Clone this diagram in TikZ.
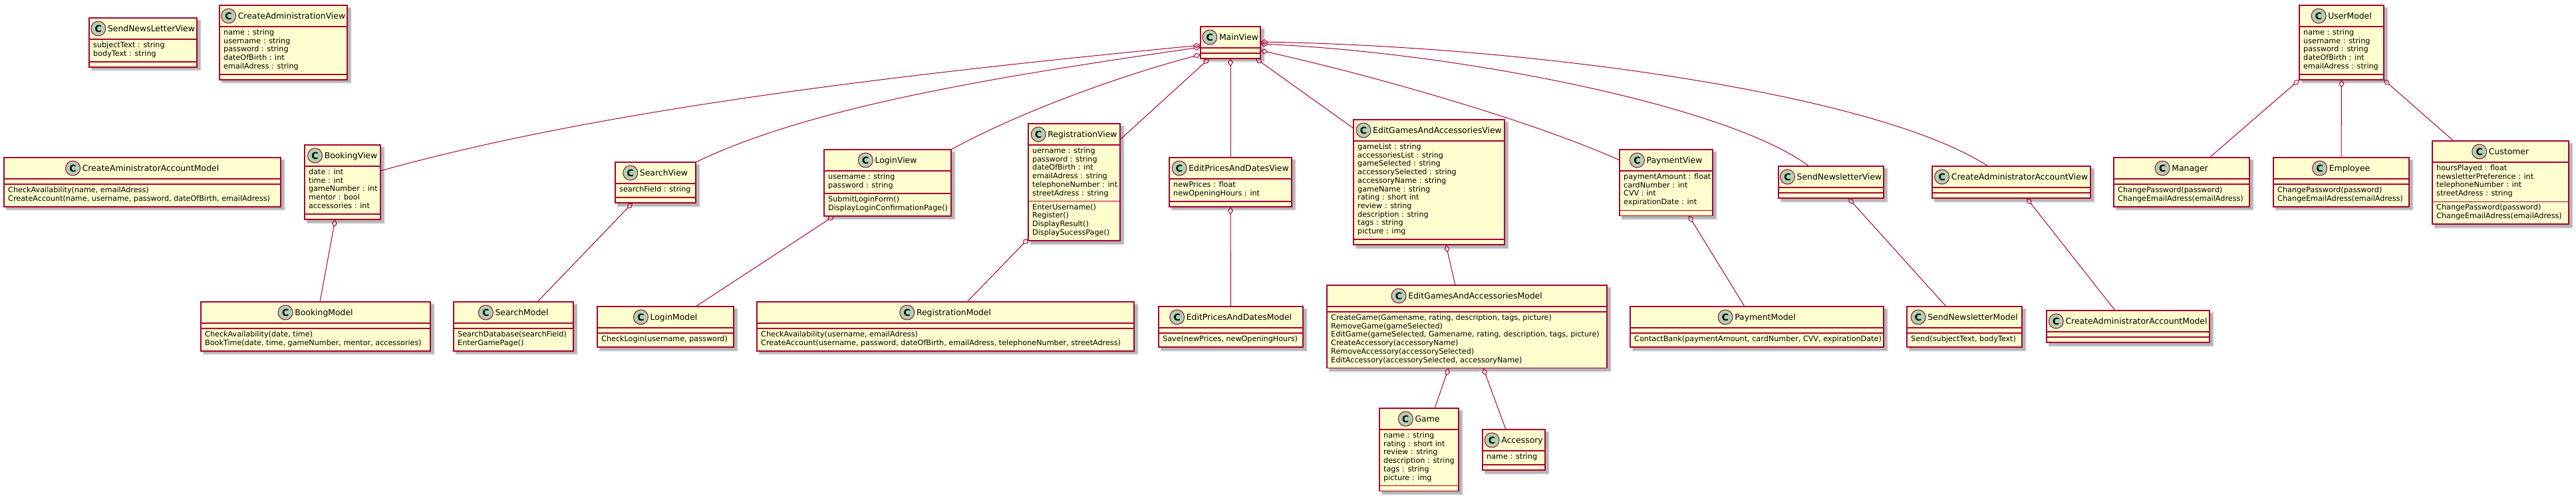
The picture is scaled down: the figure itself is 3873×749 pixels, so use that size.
\documentclass[tikz,border=0pt]{standalone}
\usepackage{fontspec}
\setmainfont{DejaVu Sans}
\usetikzlibrary{arrows.meta,calc}
\definecolor{cred}{HTML}{A80036}
\definecolor{cfill}{HTML}{FEFECE}
\definecolor{cgreen}{HTML}{ADD1B2}
\tikzset{
  cbox/.style={draw=cred, fill=cfill, line width=1.5pt, rectangle, inner sep=0pt, outer sep=0pt},
  csep/.style={draw=cred, line width=1.5pt},
  ctitle/.style={inner sep=0pt, font=\fontsize{12.4}{14}\selectfont, anchor=base},
  ccirc/.style={circle, draw=cred, fill=cgreen, line width=1pt, minimum size=22pt, inner sep=0pt, font=\fontsize{14}{14}\selectfont\bfseries},
  ctext/.style={inner sep=0pt, anchor=north west, align=left, font=\fontsize{11.2}{12.7}\selectfont},
  agg/.style={draw=cred, line width=1pt, arrows={Diamond[open,length=12pt,width=8pt,line width=1pt]-}},
}
% id, x1, top, x2, nAttr, nMeth, title, attrs, methods
\newcommand{\umlclass}[9]{%
  \pgfmathsetmacro\ua{#3+32}%
  \pgfmathsetmacro\ub{\ua+ifthenelse(#5>0,#5*12.7+8.5,8)}%
  \pgfmathsetmacro\uc{\ub+ifthenelse(#6>0,#6*12.7+8.5,8)}%
  \pgfmathsetmacro\uw{#4-#2}%
  \pgfmathsetmacro\uh{\uc-#3}%
  \pgfmathsetmacro\ucy{-(#3+16)}%
  \fill[black,opacity=0.08] (#2+2,#3+2) rectangle (#4+6.5,\uc+6.5);
  \fill[black,opacity=0.10] (#2+3,#3+3) rectangle (#4+5.5,\uc+5.5);
  \fill[black,opacity=0.14] (#2+4,#3+4) rectangle (#4+4.5,\uc+4.5);
  \node[cbox, minimum width=\uw pt, minimum height=\uh pt, anchor=north west] (#1) at (#2,#3) {};
  \draw[csep] (#2,\ua) -- (#4,\ua);
  \draw[csep] (#2,\ub) -- (#4,\ub);
  \node[ctitle] (#1-t) at ({(#2+#4)/2+12.5},{#3+20.5}) {#7};
  \path let \p1=(#1-t.west) in node[ccirc] (#1-c) at (\x1-14pt,\ucy pt) {C};
  \ifnum#5>0 \node[ctext] (#1-a) at (#2+6,\ua+2.3) {\rule{0pt}{10pt}#8};\fi
  \ifnum#6>0 \node[ctext] (#1-m) at (#2+6,\ub+2.3) {\rule{0pt}{10pt}#9};\fi
}
\begin{document}
\begin{tikzpicture}[x=1pt,y=-1pt]
\fill[white] (0,0) rectangle (3873,749);
\useasboundingbox (0,0) rectangle (3873,749);

\umlclass{SendNewsLetterView}{134}{27}{296}{2}{0}{SendNewsLetterView}{subjectText : string\\bodyText : string}{}
\umlclass{CreateAdministrationView}{330}{8}{522}{5}{0}{CreateAdministrationView}{name : string\\username : string\\password : string\\dateOfBirth : int\\emailAdress : string}{}
\umlclass{CreateAministratorAccountModel}{6}{237}{422}{0}{2}{CreateAministratorAccountModel}{}{CheckAvailability(name, emailAdress)\\CreateAccount(name, username, password, dateOfBirth, emailAdress)}
\umlclass{BookingView}{458}{218}{572}{5}{0}{BookingView}{date : int\\time : int\\gameNumber : int\\mentor : bool\\accessories : int}{}
\umlclass{BookingModel}{302}{454}{647}{0}{2}{BookingModel}{}{CheckAvailability(date, time)\\BookTime(date, time, gameNumber, mentor, accessories)}
\umlclass{SearchView}{925}{244}{1046}{1}{0}{SearchView}{searchField : string}{}
\umlclass{SearchModel}{682}{454}{862}{0}{2}{SearchModel}{}{SearchDatabase(searchField)\\EnterGamePage()}
\umlclass{LoginView}{1239}{225}{1430}{2}{2}{LoginView}{username : string\\password : string}{SubmitLoginForm()\\DisplayLoginConfirmationPage()}
\umlclass{LoginModel}{898}{461}{1103}{0}{1}{LoginModel}{}{CheckLogin(username, password)}
\umlclass{RegistrationView}{1546}{186}{1684}{6}{4}{RegistrationView}{uername : string\\password : string\\dateOfBirth : int\\emailAdress : string\\telephoneNumber : int\\streetAdress : string}{EnterUsername()\\Register()\\DisplayResult()\\DisplaySucessPage()}
\umlclass{RegistrationModel}{1138}{454}{1705}{0}{2}{RegistrationModel}{}{CheckAvailability(username, emailAdress)\\CreateAccount(username, password, dateOfBirth, emailAdress, telephoneNumber, streetAdress)}
\umlclass{MainView}{1805}{40}{1895}{0}{0}{MainView}{}{}
\umlclass{EditPricesAndDatesView}{1758}{237}{1942}{2}{0}{EditPricesAndDatesView}{newPrices : float\\newOpeningHours : int}{}
\umlclass{EditPricesAndDatesModel}{1742}{461}{1959}{0}{1}{EditPricesAndDatesModel}{}{Save(newPrices, newOpeningHours)}
\umlclass{EditGamesAndAccessoriesView}{2035}{180}{2262}{11}{0}{EditGamesAndAccessoriesView}{gameList : string\\accessoriesList : string\\gameSelected : string\\accessorySelected : string\\accessoryName : string\\gameName : string\\rating : short int\\review : string\\description : string\\tags : string\\picture : img}{}
\umlclass{EditGamesAndAccessoriesModel}{1995}{429}{2416}{0}{6}{EditGamesAndAccessoriesModel}{}{CreateGame(Gamename, rating, description, tags, picture)\\RemoveGame(gameSelected)\\EditGame(gameSelected, Gamename, rating, description, tags, picture)\\CreateAccessory(accessoryName)\\RemoveAccessory(accessorySelected)\\EditAccessory(accessorySelected, accessoryName)}
\umlclass{Game}{2074}{614}{2193}{6}{0}{Game}{name : string\\rating : short int\\review : string\\description : string\\tags : string\\picture : img}{}
\umlclass{Accessory}{2229}{646}{2323}{1}{0}{Accessory}{name : string}{}
\umlclass{PaymentView}{2435}{225}{2575}{4}{0}{PaymentView}{paymentAmount : float\\cardNumber : int\\CVV : int\\expirationDate : int}{}
\umlclass{PaymentModel}{2451}{461}{2832}{0}{1}{PaymentModel}{}{ContactBank(paymentAmount, cardNumber, CVV, expirationDate)}
\umlclass{SendNewsletterView}{2674}{250}{2832}{0}{0}{SendNewsletterView}{}{}
\umlclass{SendNewsletterModel}{2867}{461}{3040}{0}{1}{SendNewsletterModel}{}{Send(subjectText, bodyText)}
\umlclass{CreateAdministratorAccountView}{2905}{250}{3143}{0}{0}{CreateAdministratorAccountView}{}{}
\umlclass{CreateAdministratorAccountModel}{3077}{467}{3322}{0}{0}{CreateAdministratorAccountModel}{}{}
\umlclass{UserModel}{3457}{8}{3584}{5}{0}{UserModel}{name : string\\username : string\\password : string\\dateOfBirth : int\\emailAdress : string}{}
\umlclass{Manager}{3178}{237}{3382}{0}{2}{Manager}{}{ChangePassword(password)\\ChangeEmailAdress(emailAdress)}
\umlclass{Employee}{3418}{237}{3622}{0}{2}{Employee}{}{ChangePassword(password)\\ChangeEmailAdress(emailAdress)}
\umlclass{Customer}{3657}{212}{3862}{4}{2}{Customer}{hoursPlayed : float\\newsletterPreference : int\\telephoneNumber : int\\streetAdress : string}{ChangePassword(password)\\ChangeEmailAdress(emailAdress)}

% connectors from MainView
\draw[agg] ([yshift=-4pt]MainView.west) .. controls (1350,112) and (900,165) .. ([yshift=17pt]BookingView.east);
\draw[agg] ([yshift=-7pt]MainView.west) .. controls (1500,115) and (1220,160) .. (SearchView.north east);
\draw[agg] ([yshift=-18pt]MainView.west) .. controls (1680,115) and (1530,170) .. (LoginView.north east);
\draw[agg] ([xshift=-32pt]MainView.south) -- ([yshift=-24pt]RegistrationView.north east);
\draw[agg] (MainView.south) -- (EditPricesAndDatesView.north);
\draw[agg] ([xshift=38pt]MainView.south) -- ([yshift=-13pt]EditGamesAndAccessoriesView.north west);
\draw[agg] ([yshift=-12pt]MainView.east) .. controls (2050,110) and (2300,180) .. ([yshift=-16pt]PaymentView.north west);
\draw[agg] ([yshift=-2pt]MainView.east) .. controls (2200,80) and (2600,160) .. ([xshift=-33pt]SendNewsletterView.north);
\draw[agg] ([yshift=1pt]MainView.east) .. controls (2300,70) and (2820,140) .. ([xshift=-35pt]CreateAdministratorAccountView.north);

% view -> model
\draw[agg] ([xshift=-11pt]BookingView.south) -- ([xshift=6.5pt]BookingModel.north);
\draw[agg] ([xshift=-34.5pt]SearchView.south) -- ([xshift=36pt]SearchModel.north);
\draw[agg] ([xshift=15pt]LoginView.south west) -- ([xshift=45.5pt]LoginModel.north);
\draw[agg] ([yshift=3pt]RegistrationView.south west) -- ([xshift=32.5pt]RegistrationModel.north);
\draw[agg] (EditPricesAndDatesView.south) -- (EditPricesAndDatesModel.north);
\draw[agg] ([xshift=25.5pt]EditGamesAndAccessoriesView.south) -- ([xshift=-17.5pt]EditGamesAndAccessoriesModel.north);
\draw[agg] ([xshift=-27.5pt]EditGamesAndAccessoriesModel.south) -- ([xshift=23.5pt]Game.north);
\draw[agg] ([xshift=24.5pt]EditGamesAndAccessoriesModel.south) -- ([xshift=-12pt]Accessory.north);
\draw[agg] ([xshift=34pt]PaymentView.south) -- ([xshift=-18.5pt]PaymentModel.north);
\draw[agg] ([xshift=26pt]SendNewsletterView.south) -- ([xshift=-27.5pt]SendNewsletterModel.north);
\draw[agg] ([xshift=23pt]CreateAdministratorAccountView.south) -- ([xshift=-19.5pt]CreateAdministratorAccountModel.north);
\draw[agg] (UserModel.south west) -- ([xshift=42pt]Manager.north);
\draw[agg] (UserModel.south) -- (Employee.north);
\draw[agg] (UserModel.south east) -- ([xshift=-70.5pt]Customer.north);
\end{tikzpicture}
\end{document}
